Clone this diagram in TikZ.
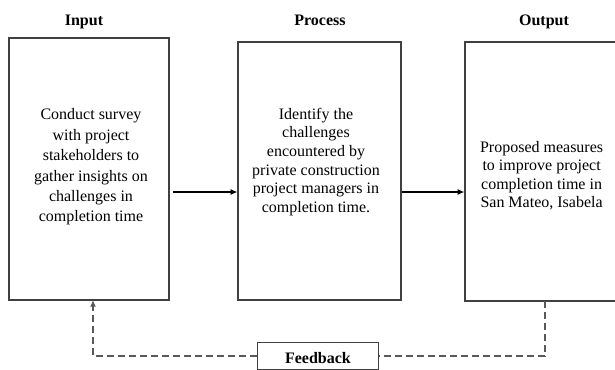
\documentclass[tikz,border=0pt]{standalone}
\usepackage{fontspec}
\setmainfont{Liberation Serif}
\usetikzlibrary{arrows.meta}
\newcommand{\stageTitle}[3]{%%
  %% A heading above a stage.
  \node[titleStyle,anchor=base] (#1) at (#2,25) {#3};
}
\newcommand{\stageArrows}{%%
  %% Input to process, process to output.
  \draw[arrowStyle,shorten <=2.5pt] (inputBox.east |- arrowLevel) -- (processBox.west |- arrowLevel);
  \draw[arrowStyle,shorten <=0.5pt] (processBox.east |- arrowLevel) -- (outputBox.west |- arrowLevel);
}
\newcommand{\feedbackLoop}{%%
  %% The dashed loop back to the input.
  \draw[dashStyle] (feedbackStart) |- (feedbackBox.east);
  \draw[dashStyle,-{Latex[length=5pt,width=4.5pt]}] (feedbackBox.west) -| (feedbackEnd);
}

\begin{document}
\begin{tikzpicture}[%%
  x=0.75pt,y=-0.75pt,%%
  boxStyle/.style={draw=black!75,line width=1pt,inner sep=0pt},%%
  titleStyle/.style={font=\rmfamily\bfseries\fontsize{12}{14}\selectfont},%%
  textStyle/.style={align=center,font=\rmfamily\fontsize{12}{14}\selectfont},%%
  arrowStyle/.style={-{Latex[length=5pt,width=4.5pt]},line width=0.8pt,black},%%
  dashStyle/.style={line width=1pt,black!65,dash pattern=on 5.25pt off 3pt}%%
]
%%
%%
\clip (0,0) rectangle (615,369);
%% Levels of the connectors.
\coordinate (arrowLevel) at (0,192);
\coordinate (feedbackStart) at (545,301);
\coordinate (feedbackEnd) at (93,300);
%%
%% The headings.
\stageTitle{inputTitle}{84}{Input}
\stageTitle{processTitle}{320}{Process}
\stageTitle{outputTitle}{544}{Output}
%% The three stages.
\node[boxStyle,minimum width=120pt,minimum height=196.5pt] (inputBox) at (89,169) {};
\node[boxStyle,minimum width=122.25pt,minimum height=193.5pt] (processBox) at (319.5,171) {};
\node[boxStyle,minimum width=116.25pt,minimum height=194.25pt] (outputBox) at (542.5,171.5) {};
\node[textStyle,font=\rmfamily\fontsize{12}{15.3}\selectfont] (inputText) at (91,167)
  {Conduct survey\\with project\\stakeholders to\\gather insights on\\challenges in\\completion time};
\node[textStyle] (processText) at (316,162)
  {Identify the\\challenges\\encountered by\\private construction\\project managers in\\completion time.};
\node[textStyle,font=\rmfamily\fontsize{12}{13.8}\selectfont] (outputText) at (541.6,175.5)
  {Proposed measures\\to improve project\\completion time in\\San Mateo, Isabela};
%% The feedback box.
\node[boxStyle,titleStyle,minimum width=90.75pt,minimum height=20.25pt,text height=11.25pt,text depth=0pt] (feedbackBox) at (318,356) {Feedback};
%%
%%
\stageArrows
\feedbackLoop
\end{tikzpicture}
\end{document}
